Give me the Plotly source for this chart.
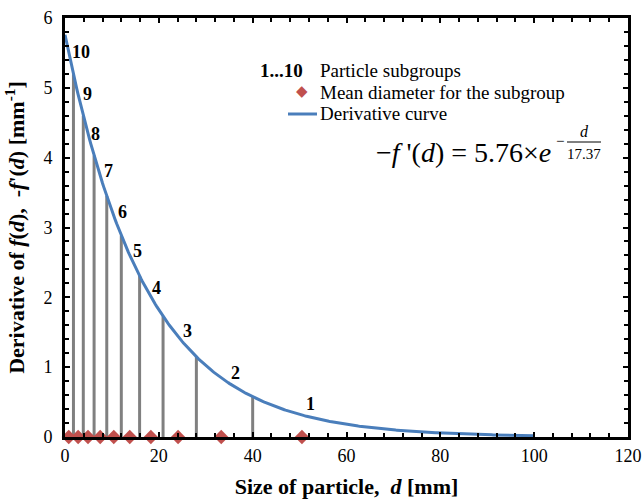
import numpy as np
import plotly.graph_objects as go

# Fitted derivative curve: -f'(d) = A * exp(-d / L)
A = 5.76
L = 17.37

# Subgroup boundaries (mm) and mean diameter of each subgroup (mm)
boundaries = [1.8, 3.9, 6.2, 8.9, 12.0, 15.9, 20.9, 28.0, 40.0]
mean_diam = [50.5, 33.3, 24.1, 18.3, 13.8, 10.4, 7.5, 4.9, 2.8, 0.8]
subgroups = ["1", "2", "3", "4", "5", "6", "7", "8", "9", "10"]

x_ticks = [0, 20, 40, 60, 80, 100, 120]
y_ticks = [0, 1, 2, 3, 4, 5, 6]

FONT = "Liberation Serif"
BLUE = "#4A7EBB"
RED = "#C0504D"
GREY = "#808080"


def curve(d):
    return A * np.exp(-np.asarray(d, dtype=float) / L)


d_line = np.linspace(0, 100, 401)

# vertical separators drawn up to the curve
vx, vy = [], []
for b in boundaries:
    vx += [b, b, None]
    vy += [0, float(curve(b)), None]

fig = go.Figure()
fig.add_trace(go.Scatter(x=vx, y=vy, mode="lines",
                         line=dict(color=GREY, width=3),
                         hoverinfo="skip", showlegend=False))
fig.add_trace(go.Scatter(x=d_line, y=curve(d_line), mode="lines",
                         line=dict(color=BLUE, width=3),
                         name="Derivative curve", showlegend=False))
fig.add_trace(go.Scatter(x=mean_diam, y=[0] * len(mean_diam), mode="markers",
                         marker=dict(symbol="diamond", size=11, color=RED),
                         cliponaxis=False,
                         name="Mean diameter for the subgroup", showlegend=False))

# subgroup numbers beside the curve (pixel offsets from the curve point)
label_dx = [9, 14, 9, 6, 8, 9, 8, 8, 9, 12]
label_dy = [11, 5, 6, 9, 4, 4, 5, 0, 1, 1]
annotations = []
for name, m, dx, dy in zip(subgroups, mean_diam, label_dx, label_dy):
    annotations.append(dict(x=m, y=float(curve(m)), xref="x", yref="y",
                            xanchor="center", yanchor="middle",
                            text=f"<b>{name}</b>", showarrow=False,
                            xshift=dx, yshift=dy,
                            font=dict(family=FONT, size=18, color="black")))

# plot area in pixels: left 65, right 628, top 18, bottom 437
PX0, PX1, PY0, PY1 = 65, 628, 18, 437


def px(xp):
    return (xp - PX0) / (PX1 - PX0)


def py(yp):
    return (PY1 - yp) / (PY1 - PY0)


def note(xp, yp, text, font, anchor="left"):
    return dict(x=px(xp), y=py(yp), xref="paper", yref="paper",
                xanchor=anchor, yanchor="middle", text=text,
                showarrow=False, font=font)


LEG = dict(family=FONT, size=19, color="black")
annotations += [
    note(305, 70, "<b>1...10</b>", LEG, "right"),
    note(318, 70, "Particle subgroups", LEG),
    note(302, 91, "◆", dict(family="DejaVu Sans", size=15, color=RED), "center"),
    note(318, 92, "Mean diameter for the subgroup", LEG),
    note(318, 114, "Derivative curve", LEG),
]

# formula text
annotations += [
    note(374, 152, f"−<i>f</i> '(<i>d</i>) = {A}×<i>e</i>",
         dict(family=FONT, size=28, color="black")),
    note(560, 141, "−", dict(family=FONT, size=15, color="black"), "center"),
    note(584, 131, "<i>d</i>", dict(family=FONT, size=16, color="black"), "center"),
    note(584, 154, f"{L}", dict(family=FONT, size=15, color="black"), "center"),
]

shapes = [
    dict(type="line", xref="paper", yref="paper",
         x0=px(567), x1=px(601), y0=py(142), y1=py(142),
         line=dict(color="black", width=1)),
    dict(type="line", xref="paper", yref="paper",
         x0=px(288), x1=px(317), y0=py(114), y1=py(114),
         line=dict(color=BLUE, width=3)),
]

axis_common = dict(showline=True, linecolor="black", linewidth=3, mirror="ticks",
                   ticks="inside", ticklen=5, tickwidth=2, tickcolor="black",
                   showgrid=False, zeroline=False, automargin=False,
                   tickfont=dict(family=FONT, size=18, color="black"))

fig.update_layout(
    width=643, height=500,
    margin=dict(l=PX0, r=643 - PX1, t=PY0, b=500 - PY1),
    paper_bgcolor="white", plot_bgcolor="white",
    font=dict(family=FONT, color="black"),
    xaxis=dict(range=[0, 120], tickvals=x_ticks,
               minor=dict(dtick=4, tick0=0, ticks="inside", ticklen=4, tickwidth=2,
                          tickcolor="black"),
               title=dict(text="<b>Size of particle,&nbsp; <i>d</i> [mm]</b>",
                          font=dict(family=FONT, size=22, color="black"), standoff=15),
               **axis_common),
    yaxis=dict(range=[0, 6], tickvals=y_ticks,
               minor=dict(dtick=0.2, tick0=0, ticks="inside", ticklen=4, tickwidth=2,
                          tickcolor="black"),
               ticklabelstandoff=6,
               title=dict(text="<b>Derivative of <i>f</i>(<i>d</i>),&nbsp; -<i>f</i>'(<i>d</i>) [mm<sup>-1</sup>]</b>",
                          font=dict(family=FONT, size=22, color="black"), standoff=13),
               **axis_common),
    annotations=annotations,
    shapes=shapes,
)

fig.write_html("out.html")
